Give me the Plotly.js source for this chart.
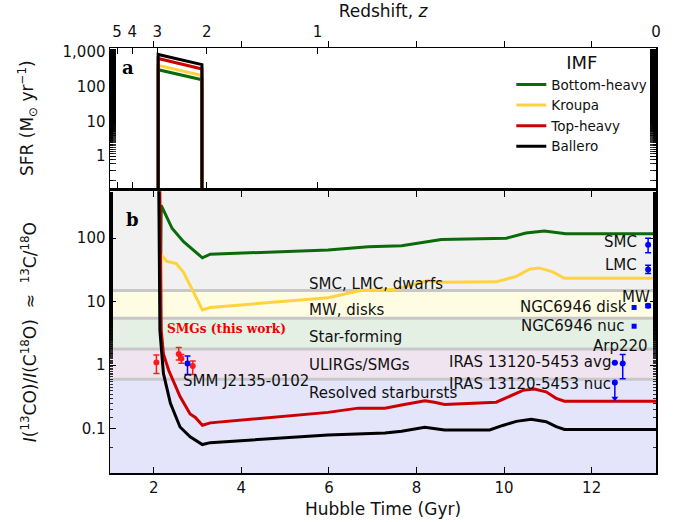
<!DOCTYPE html>
<html><head><meta charset="utf-8">
<script src="https://cdn.plot.ly/plotly-3.0.1.min.js"></script>
<style>html,body{margin:0;padding:0;background:#fff}</style>
</head><body><div id="chart" style="width:683px;height:522px"></div>
<script>
// ---------- DATA ----------
const imfNames = ["Bottom-heavy", "Kroupa", "Top-heavy", "Ballero"];
const imfColors = ["#0b6b0b", "#ffd340", "#cc0000", "#000000"];

// Panel a: SFR (Msun/yr) burst
const sfrTime = [2.1, 2.1, 3.1, 3.1];
const sfrBottomHeavy = [0.001, 300, 155, 0.001];
const sfrKroupa = [0.001, 400, 205, 0.001];
const sfrTopHeavy = [0.001, 630, 316, 0.001];
const sfrBallero = [0.001, 820, 420, 0.001];

// Panel b: ratio curves
const tBottomHeavy = [2.16, 2.17, 2.42, 2.68, 3.11, 3.29, 5.98, 6.9, 7.66, 8.3, 8.57, 10.05, 10.5, 10.92, 11.19, 11.41, 13.47];
const rBottomHeavy = [50, 330, 142, 88, 49, 56, 65, 73, 76, 88, 95, 100, 121, 130, 123, 118, 118];
const tKroupa = [2.16, 2.17, 2.3, 2.51, 2.68, 3.11, 3.29, 5.98, 6.74, 7.5, 8.26, 8.57, 9.82, 10.28, 10.58, 10.8, 11.11, 11.38, 13.47];
const rKroupa = [10, 55, 43, 40, 29, 7.4, 8.1, 11.5, 15.1, 15.5, 21.5, 20.3, 20.5, 25, 32.5, 34, 29.4, 23.3, 23.3];
const tTopHeavy = [2.12, 2.17, 2.22, 2.34, 2.6, 2.83, 2.95, 3.11, 3.29, 5.98, 6.67, 7.28, 7.66, 8.19, 8.41, 8.64, 9.82, 10.12, 10.43, 10.69, 10.96, 11.19, 11.38, 13.47];
const rTopHeavy = [10000, 3.5, 1.5, 0.83, 0.32, 0.17, 0.15, 0.113, 0.123, 0.18, 0.21, 0.21, 0.235, 0.275, 0.26, 0.24, 0.26, 0.32, 0.40, 0.42, 0.38, 0.30, 0.27, 0.27];
const tBallero = [2.1, 2.14, 2.22, 2.38, 2.6, 2.83, 3.11, 3.29, 5.98, 7.28, 7.66, 8.19, 8.64, 9.67, 9.97, 10.28, 10.62, 10.96, 11.19, 11.38, 13.47];
const rBallero = [10000, 3.5, 0.74, 0.25, 0.106, 0.074, 0.056, 0.06, 0.079, 0.085, 0.091, 0.105, 0.095, 0.095, 0.112, 0.13, 0.14, 0.128, 0.107, 0.097, 0.097];

// SMGs (this work)
const smgT = [2.06, 2.57, 2.63, 2.89];
const smgR = [1.1, 1.5, 1.27, 0.97];
const smgErrUp = [0.34, 0.4, 0.2, 0.19];
const smgErrDn = [0.36, 0.3, 0.2, 0.26];

// SMM J2135-0102
const smmT = [2.77];
const smmR = [1.06];
const smmErrUp = [0.33];
const smmErrDn = [0.35];

// Local galaxies (circles with error bars)
const locNames = ["SMC", "LMC", "MW", "Arp220", "IRAS 13120-5453 avg"];
const locT = [13.29, 13.29, 13.29, 12.71, 12.53];
const locR = [79, 32, 8.6, 1.06, 1.09];
const locErrUp = [21, 5.6, 0.5, 0.41, 0];
const locErrDn = [20, 4.3, 0.5, 0.45, 0];
// NGC6946 (squares)
const ngcNames = ["NGC6946 disk", "NGC6946 nuc"];
const ngcT = [12.97, 12.97];
const ngcR = [8.1, 4.1];
// IRAS nuc upper limit
const limT = [12.53];
const limR = [0.53];
const limTo = [0.30];

// Bands
const bandNames = ["SMC, LMC, dwarfs", "MW, disks", "Star-forming", "ULIRGs/SMGs", "Resolved starbursts"];
const bandTop = [10000, 15, 5.5, 1.8, 0.6];
const bandBottom = [15, 5.5, 1.8, 0.6, 0.001];
const bandColors = ["#f1f1f1", "#fefde4", "#e5f0e5", "#f0e4f0", "#e4e4fa"];
const bandLabelR = [19, 7.4, 2.75, 1.0, 0.37];

// Redshift ticks
const zTickTime = [1.16, 1.51, 2.08, 3.21, 5.74, 13.47];
const zTickText = ["5", "4", "3", "2", "1", "0"];

// ---------- PLOT ----------
const FONT = "DejaVu Sans, sans-serif";
const SERIF = "DejaVu Serif, serif";
const traces = [];
const sfrSets = [sfrBottomHeavy, sfrKroupa, sfrTopHeavy, sfrBallero];
const tSets = [tBottomHeavy, tKroupa, tTopHeavy, tBallero];
const rSets = [rBottomHeavy, rKroupa, rTopHeavy, rBallero];
for (let i = 0; i < 4; i++) {
  traces.push({x: sfrTime, y: sfrSets[i], xaxis: "x", yaxis: "y2", mode: "lines",
    line: {color: imfColors[i], width: 3}, name: imfNames[i], legendgroup: imfNames[i], showlegend: true, hoverinfo: "skip"});
}
for (let i = 0; i < 4; i++) {
  traces.push({x: tSets[i], y: rSets[i], xaxis: "x", yaxis: "y", mode: "lines",
    line: {color: imfColors[i], width: 3}, name: imfNames[i], legendgroup: imfNames[i], showlegend: false, hoverinfo: "skip"});
}
// invisible marker so the redshift axis exists
traces.push({x: [zTickTime[0]], y: [1], xaxis: "x2", yaxis: "y2", mode: "markers", marker: {opacity: 0}, showlegend: false, hoverinfo: "skip"});

traces.push({x: smgT, y: smgR, xaxis: "x", yaxis: "y", mode: "markers",
  marker: {color: "#ff1a1a", size: 6}, showlegend: false,
  error_y: {type: "data", symmetric: false, array: smgErrUp, arrayminus: smgErrDn, color: "#ff1a1a", thickness: 1.5, width: 3}});
traces.push({x: smmT, y: smmR, xaxis: "x", yaxis: "y", mode: "markers",
  marker: {color: "#0000ff", size: 6}, showlegend: false,
  error_y: {type: "data", symmetric: false, array: smmErrUp, arrayminus: smmErrDn, color: "#0000ff", thickness: 1.5, width: 3}});
traces.push({x: locT, y: locR, xaxis: "x", yaxis: "y", mode: "markers",
  marker: {color: "#0000ff", size: 6}, showlegend: false,
  error_y: {type: "data", symmetric: false, array: locErrUp, arrayminus: locErrDn, color: "#0000ff", thickness: 1.5, width: 3}});
traces.push({x: ngcT, y: ngcR, xaxis: "x", yaxis: "y", mode: "markers",
  marker: {color: "#0000ff", size: 5, symbol: "square"}, showlegend: false});
traces.push({x: limT, y: limR, xaxis: "x", yaxis: "y", mode: "markers",
  marker: {color: "#0000ff", size: 6}, showlegend: false,
  error_y: {type: "data", symmetric: false, array: [0], arrayminus: [limR[0] - limTo[0]], color: "#0000ff", thickness: 1.5, width: 0}});
traces.push({x: limT, y: limTo, xaxis: "x", yaxis: "y", mode: "markers",
  marker: {color: "#0000ff", size: 6, symbol: "triangle-down"}, showlegend: false});

const shapes = [];
for (let i = 0; i < bandNames.length; i++) {
  shapes.push({type: "rect", xref: "x domain", yref: "y", x0: 0, x1: 1,
    y0: bandBottom[i], y1: bandTop[i], fillcolor: bandColors[i], line: {width: 0}, layer: "below"});
}
for (let i = 0; i < bandBottom.length - 1; i++) {
  shapes.push({type: "line", xref: "x domain", yref: "y", x0: 0, x1: 1,
    y0: bandBottom[i], y1: bandBottom[i], line: {color: "#c8c8c8", width: 3}, layer: "below"});
}

const annotations = [];
for (let i = 0; i < bandNames.length; i++) {
  annotations.push({x: 5.51, y: Math.log10(bandLabelR[i]), xref: "x", yref: "y", text: bandNames[i],
    showarrow: false, xanchor: "left", yanchor: "middle", font: {family: FONT, size: 15, color: "#111"}});
}
const rightLabels = [
  ["SMC", 13.08, 87], ["LMC", 13.08, 37.6], ["MW", 13.38, 11.8], ["NGC6946 disk", 12.86, 8.28],
  ["NGC6946 nuc", 12.8, 4.11], ["IRAS 13120-5453 avg", 12.49, 1.1], ["IRAS 13120-5453 nuc", 12.49, 0.5]
];
for (const [t, x, y] of rightLabels) {
  annotations.push({x: x, y: Math.log10(y), xref: "x", yref: "y", text: t, showarrow: false,
    xanchor: "right", yanchor: "middle", font: {family: FONT, size: 15, color: "#111"}});
}
annotations.push({x: 12.67, y: Math.log10(2.01), xref: "x", yref: "y", text: "Arp220", showarrow: false,
  xanchor: "center", yanchor: "middle", font: {family: FONT, size: 15, color: "#111"}});
annotations.push({x: 2.63, y: Math.log10(0.56), xref: "x", yref: "y", text: "SMM J2135-0102", showarrow: false,
  xanchor: "left", yanchor: "middle", font: {family: FONT, size: 15, color: "#111"}});
annotations.push({x: 2.26, y: Math.log10(3.75), xref: "x", yref: "y", text: "<b>SMGs (this work)</b>", showarrow: false,
  xanchor: "left", yanchor: "middle", font: {family: SERIF, size: 12.2, color: "#ee0000"}});
annotations.push({x: 0.018, y: 0.86, xref: "x domain", yref: "y2 domain", text: "<b>a</b>", showarrow: false,
  xanchor: "left", yanchor: "middle", font: {family: SERIF, size: 18, color: "#000"}});
annotations.push({x: 0.025, y: 0.90, xref: "x domain", yref: "y domain", text: "<b>b</b>", showarrow: false,
  xanchor: "left", yanchor: "middle", font: {family: SERIF, size: 18, color: "#000"}});

const axisCommon = {showgrid: false, zeroline: false, showline: true, linecolor: "#000", linewidth: 1.5,
  ticks: "inside", ticklen: 6, tickwidth: 1, tickcolor: "#000", mirror: "allticks",
  tickfont: {family: FONT, size: 15, color: "#111"}};
const minorLog = {ticks: "inside", ticklen: 3, tickcolor: "#000", tickwidth: 0.8, showgrid: false};

const layout = {
  width: 683, height: 522,
  margin: {l: 110, r: 27, t: 48, b: 49},
  paper_bgcolor: "#fff", plot_bgcolor: "rgba(0,0,0,0)",
  font: {family: FONT, color: "#111"},
  showlegend: true,
  legend: {x: 0.735, y: 1.005, xanchor: "left", yanchor: "top", bgcolor: "rgba(0,0,0,0)",
    font: {family: FONT, size: 13.5, color: "#111"},
    title: {text: "IMF", side: "top center", font: {family: FONT, size: 18, color: "#111"}},
    tracegroupgap: 0, itemwidth: 30},
  xaxis: Object.assign({}, axisCommon, {domain: [0, 1], range: [1.0, 13.47], anchor: "y",
    tickvals: [2, 4, 6, 8, 10, 12],
    title: {text: "Hubble Time (Gyr)", standoff: 7, font: {family: FONT, size: 17, color: "#111"}}}),
  xaxis2: Object.assign({}, axisCommon, {domain: [0, 1], range: [1.0, 13.47], anchor: "y2", side: "top",
    tickvals: zTickTime, ticktext: zTickText, ticklabelstandoff: 4,
    title: {text: "Redshift, <i>z</i>", standoff: 0, font: {family: FONT, size: 17, color: "#111"}}}),
  yaxis: Object.assign({}, axisCommon, {domain: [0, 0.663], type: "log", range: [-1.70, 2.74], anchor: "x",
    tickvals: [0.1, 1, 10, 100], ticktext: ["0.1", "1", "10", "100"], minor: minorLog,
    title: {text: "<i>I</i>(<sup>13</sup>CO)/<i>I</i>(C<sup>18</sup>O)  ≈  <sup>13</sup>C/<sup>18</sup>O", standoff: 36,
      font: {family: FONT, size: 17, color: "#111"}}}),
  yaxis2: Object.assign({}, axisCommon, {domain: [0.670, 1], type: "log", range: [-0.92, 3.10], anchor: "x2",
    tickvals: [1, 10, 100, 1000], ticktext: ["1", "10", "100", "1,000"], minor: minorLog,
    title: {text: "SFR (M<sub>⊙</sub> yr<sup>−1</sup>)", standoff: 24, font: {family: FONT, size: 17, color: "#111"}}}),
  shapes: shapes,
  annotations: annotations
};
Plotly.newPlot("chart", traces, layout, {displayModeBar: false, staticPlot: true});
</script></body></html>
